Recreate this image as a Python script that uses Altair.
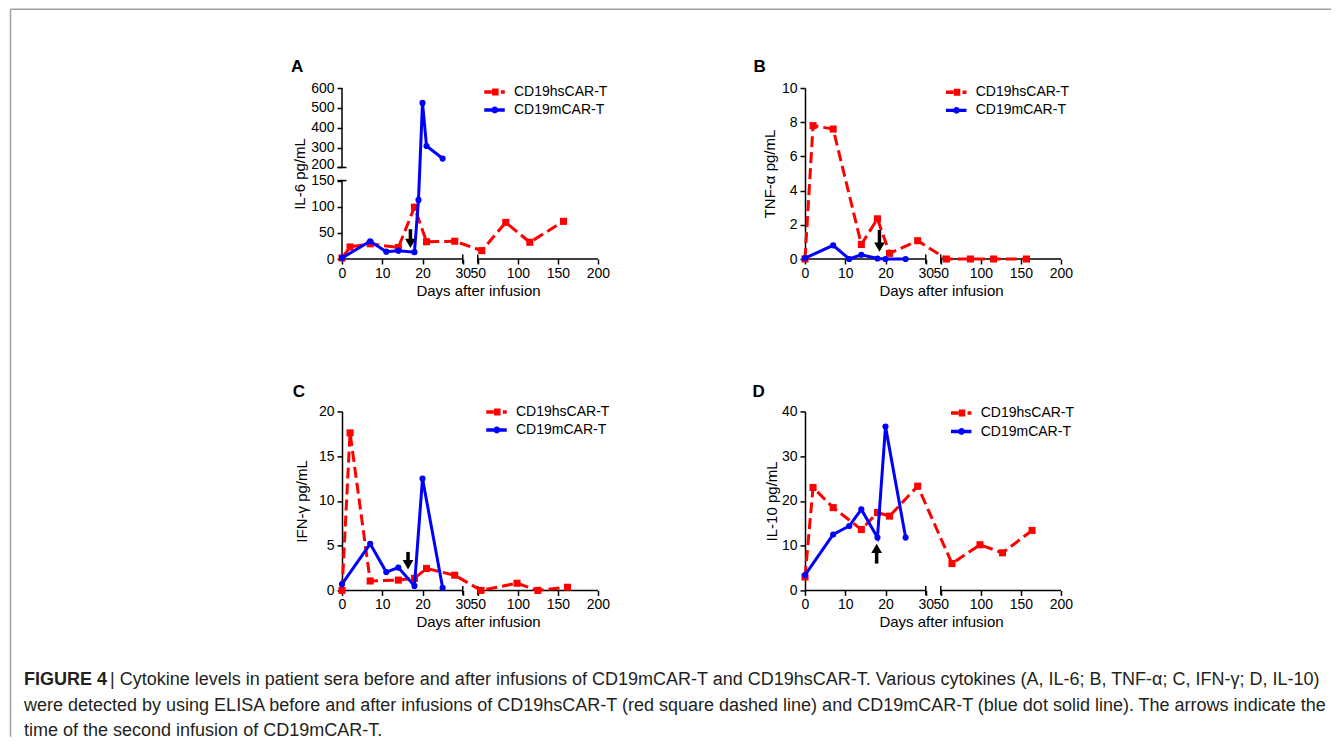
import altair as alt
import pandas as pd

# ---------------- data ----------------
SERIES = ["CD19hsCAR-T", "CD19mCAR-T"]
COLORS = ["#ff0000", "#0000ff"]

# Panel A - IL-6 pg/mL
A_RED_DAYS = [0, 2, 7, 14, 18, 21, 28, 55, 85, 115, 157]
A_RED_VALS = [2, 23, 29, 22, 99, 33, 34, 16, 70, 32, 72]
A_BLUE_DAYS = [0, 7, 11, 14, 18, 19, 20, 21, 25]
A_BLUE_VALS = [2, 34, 14, 16, 13, 113, 525, 308, 245]

# Panel B - TNF-alpha pg/mL
B_RED_DAYS = [0, 2, 7, 14, 18, 21, 28, 57, 87, 116, 157]
B_RED_VALS = [0, 7.8, 7.6, 0.85, 2.35, 0.33, 1.07, 0, 0, 0, 0]
B_BLUE_DAYS = [0, 7, 11, 14, 18, 20, 25]
B_BLUE_VALS = [0.05, 0.8, 0, 0.25, 0.03, 0, 0]

# Panel C - IFN-gamma pg/mL
C_RED_DAYS = [0, 2, 7, 14, 18, 21, 28, 54, 99, 125, 162]
C_RED_VALS = [0, 17.6, 1.05, 1.15, 1.35, 2.45, 1.7, 0, 0.8, 0, 0.35]
C_BLUE_DAYS = [0, 7, 11, 14, 18, 20, 25]
C_BLUE_VALS = [0.7, 5.2, 2.05, 2.55, 0.5, 12.5, 0.3]

# Panel D - IL-10 pg/mL
D_RED_DAYS = [0, 2, 7, 14, 18, 21, 28, 64, 99, 127, 164]
D_RED_VALS = [3.0, 23.0, 18.5, 13.6, 17.4, 16.6, 23.3, 6.0, 10.2, 8.4, 13.4]
D_BLUE_DAYS = [0, 7, 11, 14, 18, 20, 25]
D_BLUE_VALS = [3.4, 12.5, 14.4, 18.1, 11.8, 36.6, 11.8]

# arrows: second infusion of CD19mCAR-T (day, tail value, tip value)
ARROW_DAY = [17, 18.5, 16.4, 17.8]
ARROW_TAIL = [57, 1.7, 4.3, 6.0]
ARROW_TIP = [21, 0.43, 2.35, 10.4]

Y_TITLES = ["IL-6 pg/mL", "TNF-α pg/mL", "IFN-γ pg/mL", "IL-10 pg/mL"]
LETTERS = ["A", "B", "C", "D"]
X_TITLE = "Days after infusion"
CAPTION_BOLD = "FIGURE 4"
CAPTION_LINES = [
    "| Cytokine levels in patient sera before and after infusions of CD19mCAR-T and CD19hsCAR-T. Various cytokines (A, IL-6; B, TNF-α; C, IFN-γ; D, IL-10)",
    "were detected by using ELISA before and after infusions of CD19hsCAR-T (red square dashed line) and CD19mCAR-T (blue dot solid line). The arrows indicate the",
    "time of the second infusion of CD19mCAR-T.",
]

# ---------------- layout / style ----------------
FONT = "Liberation Sans, Arial, Helvetica, sans-serif"
TICK_FS = 14
W = 256
H_TOP = 171
H_BOT = 179
XR0 = 33.73    # display position of day 50 (after the axis break)
XRS = 0.199    # display units per day right of the break
XMAX = 63.6
X_TICKS = [0, 10, 20, 30] + [round(XR0 + (d - 50) * XRS, 3) for d in (50, 100, 150, 200)]
X_CALC = f"datum.day <= 30 ? datum.day : {XR0} + (datum.day - 50) * {XRS}"
X_LABEL = f"datum.value <= 30.5 ? format(datum.value, 'd') : format(50 + (datum.value - {XR0}) / {XRS}, '.0f')"

YA0 = 175      # display position of 200 in panel A (after the y break)
YAS = 0.38
YAMAX = 327
Y_CALC_A = f"datum.val <= 150 ? datum.val : {YA0} + (datum.val - 200) * {YAS}"
Y_LABEL_A = f"datum.value <= 150.5 ? format(datum.value, 'd') : format(200 + (datum.value - {YA0}) / {YAS}, '.0f')"
Y_TICKS_A = [0, 50, 100, 150] + [round(YA0 + (v - 200) * YAS, 3) for v in (200, 300, 400, 500, 600)]

PATH_RED = "M-1,-0.17H-0.26V0.17H-1Z M-0.24,-0.34H0.4V0.34H-0.24Z M0.62,-0.17H1V0.17H0.62Z"
PATH_BLUE = "M-1,-0.16H1V0.16H-1Z M-0.3,0A0.33,0.33 0 1,1 0.36,0A0.33,0.33 0 1,1 -0.3,0Z"


def panel(k, rd, rv, bd, bv, ymax, yticks, height, ybreak,
          letter_xy, ytitle_x, leg_xy, leg_row_pad, extra=()):
    xs = alt.Scale(domain=[0, XMAX], nice=False, zero=False)
    ys = alt.Scale(domain=[0, ymax], nice=False, zero=False)
    xax = alt.Axis(values=X_TICKS, labelExpr=X_LABEL, domain=False, grid=False,
                   tickSize=5, tickWidth=1.5, tickColor="black",
                   labelFont=FONT, labelFontSize=TICK_FS, labelColor="black", labelPadding=2,
                   labelOverlap=False, labelFlush=False,
                   title=X_TITLE, titleFont=FONT, titleFontSize=15, titleFontWeight="normal",
                   titleColor="black", titleX=136, titleY=31, titleBaseline="middle",
                   titleAlign="center")
    ykw = dict(values=yticks, domain=not ybreak, domainColor="black", domainWidth=1.5,
               grid=False, tickSize=5, tickWidth=1.5, tickColor="black",
               labelFont=FONT, labelFontSize=TICK_FS, labelColor="black", labelPadding=3,
               labelOverlap=False, labelFlush=False,
               title=Y_TITLES[k], titleFont=FONT, titleFontSize=15, titleFontWeight="normal",
               titleColor="black", titleX=ytitle_x, titleY=height / 2,
               titleBaseline="middle", titleAlign="center", titleAngle=270)
    if ybreak:
        ykw["labelExpr"] = Y_LABEL_A
        ykw["labelOffset"] = {"condition": {"test": f"datum.value == {YA0}", "value": -2.5},
                              "value": 0}
    yax = alt.Axis(**ykw)

    def X(f):
        return alt.X(f"{f}:Q", scale=xs, axis=xax)

    def Y(f):
        return alt.Y(f"{f}:Q", scale=ys, axis=yax)

    ycalc = Y_CALC_A if ybreak else "datum.val"
    layers = []

    # broken x axis baseline + break caps
    segx = pd.DataFrame({"a": [0, XR0], "b": [30, XMAX], "z": [0, 0]})
    layers.append(alt.Chart(segx).mark_rule(color="black", strokeWidth=1.5)
                  .encode(x=X("a"), x2="b", y=Y("z")))
    capx = pd.DataFrame({"c": [30, XR0], "z": [0, 0]})
    layers.append(alt.Chart(capx).mark_tick(orient="vertical", size=9, thickness=1.5,
                                            color="black", opacity=1)
                  .encode(x=X("c"), y=Y("z")))
    if ybreak:
        segy = pd.DataFrame({"a": [0, YA0], "b": [150, YAMAX], "z": [0, 0]})
        layers.append(alt.Chart(segy).mark_rule(color="black", strokeWidth=1.5)
                      .encode(x=X("z"), y=Y("a"), y2="b"))
        capy = pd.DataFrame({"c": [150, YA0], "z": [0, 0]})
        layers.append(alt.Chart(capy).mark_tick(orient="horizontal", size=9, thickness=1.5,
                                                color="black", opacity=1)
                      .encode(x=X("z"), y=Y("c")))

    red = alt.Chart(pd.DataFrame({"day": rd, "val": rv})).transform_calculate(xp=X_CALC, yp=ycalc)
    blue = alt.Chart(pd.DataFrame({"day": bd, "val": bv})).transform_calculate(xp=X_CALC, yp=ycalc)
    layers.append(red.mark_line(color=COLORS[0], strokeWidth=3, strokeDash=[11, 5])
                  .encode(x=X("xp"), y=Y("yp")))
    layers.append(red.mark_point(shape="square", filled=True, opacity=1, size=50, color=COLORS[0])
                  .encode(x=X("xp"), y=Y("yp")))
    layers.append(blue.mark_line(color=COLORS[1], strokeWidth=3)
                  .encode(x=X("xp"), y=Y("yp")))
    layers.append(blue.mark_point(shape="circle", filled=True, opacity=1, size=38, color=COLORS[1])
                  .encode(x=X("xp"), y=Y("yp")))

    # arrow: time of the second infusion
    up = ARROW_TIP[k] > ARROW_TAIL[k]
    arr = alt.Chart(pd.DataFrame({"day": [ARROW_DAY[k]], "tail": [ARROW_TAIL[k]],
                                  "tip": [ARROW_TIP[k]]})).transform_calculate(xp=X_CALC)
    layers.append(arr.mark_rule(color="black", strokeWidth=3.5, y2Offset=(5 if up else -5))
                  .encode(x=X("xp"), y=Y("tail"), y2="tip"))
    layers.append(arr.mark_point(shape=("triangle-up" if up else "triangle-down"), filled=True,
                                 opacity=1, size=115, color="black",
                                 yOffset=(4.6 if up else -4.6))
                  .encode(x=X("xp"), y=Y("tip")))

    # panel letter
    layers.append(alt.Chart(pd.DataFrame({"t": [LETTERS[k]]}))
                  .mark_text(align="left", baseline="alphabetic", font=FONT, fontSize=17,
                             fontWeight="bold", color="black")
                  .encode(text="t:N", x=alt.value(letter_xy[0]), y=alt.value(letter_xy[1])))

    # legend
    leg = alt.Legend(orient="none", legendX=leg_xy[0], legendY=leg_xy[1], title=None,
                     symbolSize=420, symbolStrokeWidth=0, symbolOpacity=1,
                     labelFont=FONT, labelFontSize=14, labelColor="black", labelOffset=9,
                     rowPadding=leg_row_pad, padding=0)
    layers.append(alt.Chart(pd.DataFrame({"s": SERIES})).transform_filter("false")
                  .mark_point(filled=True, opacity=1)
                  .encode(color=alt.Color("s:N", scale=alt.Scale(domain=SERIES, range=COLORS),
                                          legend=leg),
                          shape=alt.Shape("s:N", scale=alt.Scale(domain=SERIES,
                                                                 range=[PATH_RED, PATH_BLUE]),
                                          legend=leg)))
    layers.extend(extra)
    return alt.layer(*layers).properties(width=W, height=height)


# caption and figure frame (placed relative to panel C's plot origin)
one = pd.DataFrame({"k": [0]})
FL, FT, FR, FB = -331.5, -402.2, 989, 325.3
frame = [
    alt.Chart(one).mark_rule(color="#a0a0a0", strokeWidth=1.5)
    .encode(x=alt.value(FL), x2=alt.value(FR), y=alt.value(FT)),
    alt.Chart(one).mark_rule(color="#a0a0a0", strokeWidth=1.5)
    .encode(x=alt.value(FL), y=alt.value(FT), y2=alt.value(FB)),
]
CAP_FS = 18
cap_y = [273.3, 299.3, 325.0]
caption = [
    alt.Chart(one).mark_text(align="left", baseline="alphabetic", font=FONT, fontSize=CAP_FS,
                             fontWeight="bold", color="#231f20")
    .encode(text=alt.value(CAPTION_BOLD), x=alt.value(-318), y=alt.value(cap_y[0])),
    alt.Chart(one).mark_text(align="left", baseline="alphabetic", font=FONT, fontSize=CAP_FS,
                             color="#231f20")
    .encode(text=alt.value(CAPTION_LINES[0]), x=alt.value(-232), y=alt.value(cap_y[0])),
    alt.Chart(one).mark_text(align="left", baseline="alphabetic", font=FONT, fontSize=CAP_FS,
                             color="#231f20")
    .encode(text=alt.value(CAPTION_LINES[1]), x=alt.value(-318), y=alt.value(cap_y[1])),
    alt.Chart(one).mark_text(align="left", baseline="alphabetic", font=FONT, fontSize=CAP_FS,
                             color="#231f20")
    .encode(text=alt.value(CAPTION_LINES[2]), x=alt.value(-318), y=alt.value(cap_y[2])),
]

pA = panel(0, A_RED_DAYS, A_RED_VALS, A_BLUE_DAYS, A_BLUE_VALS, YAMAX, Y_TICKS_A, H_TOP, True,
           (-51, -15.6), -43, (142, -6.5), -7.5)
pB = panel(1, B_RED_DAYS, B_RED_VALS, B_BLUE_DAYS, B_BLUE_VALS, 10, [0, 2, 4, 6, 8, 10], H_TOP,
           False, (-51.6, -16), -36, (140.7, -6.2), -7.5)
pC = panel(2, C_RED_DAYS, C_RED_VALS, C_BLUE_DAYS, C_BLUE_VALS, 20, [0, 5, 10, 15, 20], H_BOT,
           False, (-49.3, -14), -41, (144, -9.9), -2.5, extra=frame + caption)
pD = panel(3, D_RED_DAYS, D_RED_VALS, D_BLUE_DAYS, D_BLUE_VALS, 40, [0, 10, 20, 30, 40], H_BOT,
           False, (-52.6, -14.3), -34, (145.7, -8.9), 0.5)

chart = (
    alt.concat(pA, pB, pC, pD, columns=2,
               spacing=alt.RowColnumber(row=152.4, column=207),
               bounds="flush", align="each")
    .resolve_scale(x="independent", y="independent", color="independent", shape="independent")
    .resolve_legend(color="independent", shape="independent")
    .properties(padding={"left": 1, "top": 0, "right": 0, "bottom": 0}, background="white")
    .configure_view(stroke=None)
)

chart.save("out.html", embed_options={"renderer": "svg", "actions": False})
